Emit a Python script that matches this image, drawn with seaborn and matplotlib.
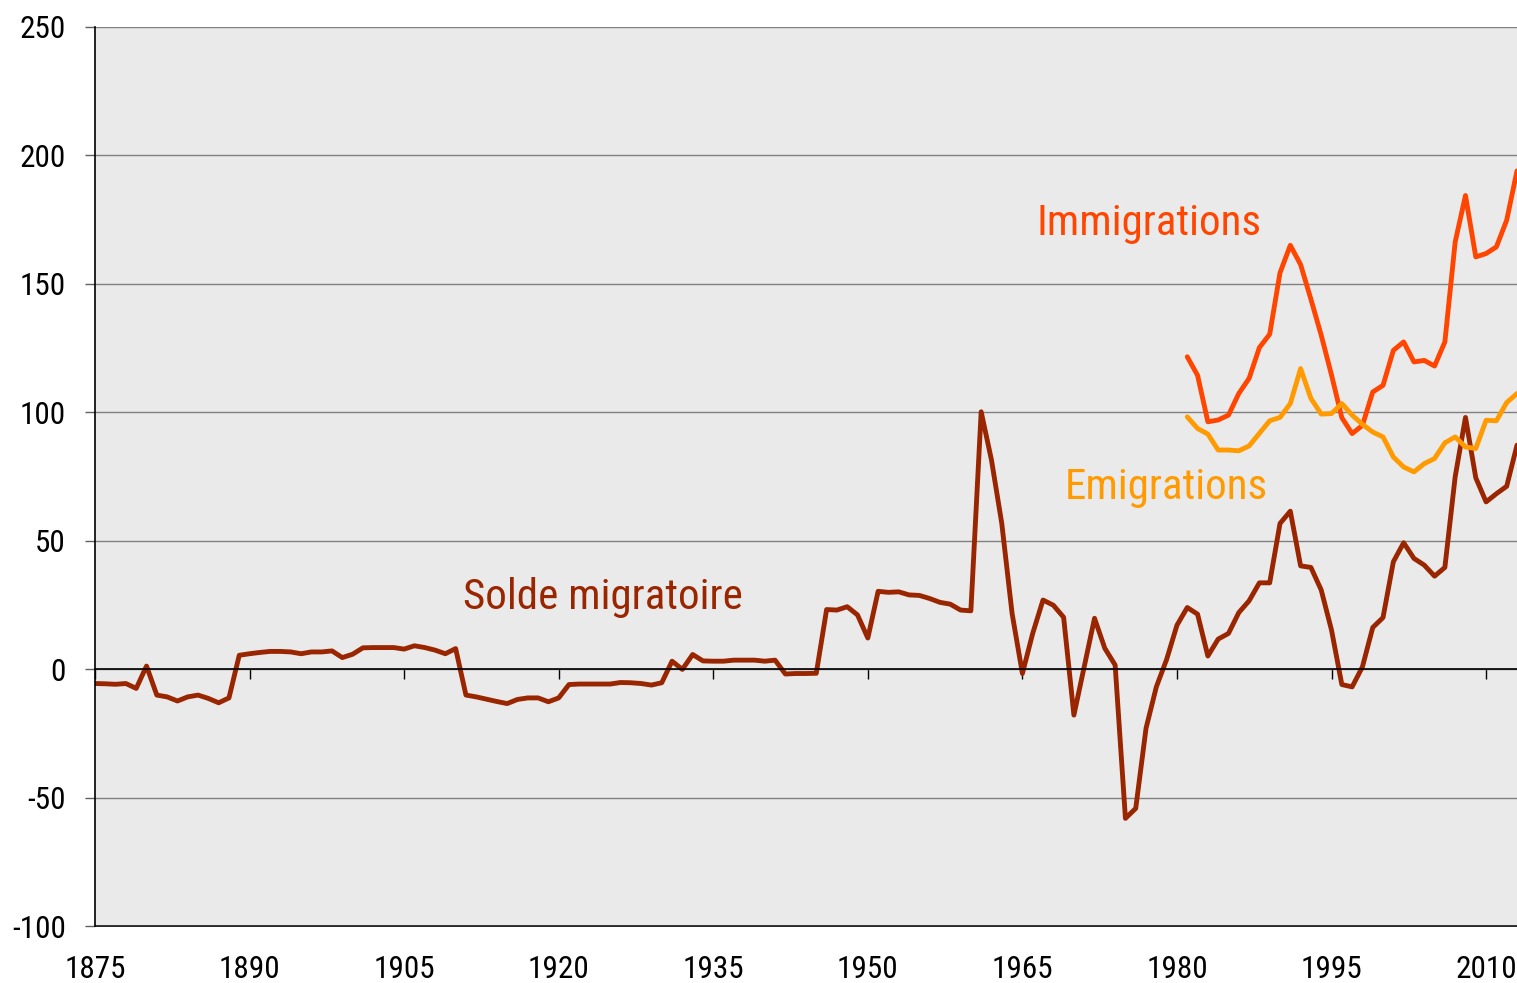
import numpy as np
import pandas as pd
import matplotlib
matplotlib.use('Agg')
import matplotlib.pyplot as plt
import seaborn as sns

# Migration flows (thousands)
years_solde = list(range(1875, 2014))
solde = [
    -5.6, -5.7, -5.9, -5.6, -7.5, 1.2, -10.1, -10.8, -12.4, -10.8,      # 1875-1884
    -10.1, -11.4, -13.1, -11.2, 5.4, 6.0, 6.5, 6.9, 6.9, 6.7,            # 1885-1894
    6.0, 6.7, 6.7, 7.1, 4.5, 5.8, 8.3, 8.4, 8.4, 8.4,                    # 1895-1904
    7.8, 9.1, 8.4, 7.4, 6.0, 8.0, -10.1, -10.8, -11.7, -12.6,            # 1905-1914
    -13.4, -11.8, -11.2, -11.2, -12.7, -11.2, -6.0, -5.8, -5.8, -5.8,    # 1915-1924
    -5.8, -5.2, -5.3, -5.6, -6.2, -5.3, 3.1, -0.1, 5.7, 3.2,             # 1925-1934
    3.1, 3.1, 3.5, 3.5, 3.5, 3.1, 3.5, -1.9, -1.7, -1.7,                 # 1935-1944
    -1.6, 23.2, 23.0, 24.3, 21.1, 12.1, 30.3, 29.9, 30.1, 28.9,          # 1945-1954
    28.7, 27.5, 26.0, 25.3, 23.0, 22.7, 100.2, 81.4, 56.7, 21.7,         # 1955-1964
    -1.7, 13.9, 26.9, 24.9, 20.2, -17.9, 0.9, 19.8, 8.1, 1.6,            # 1965-1974
    -58.1, -54.2, -23.0, -6.9, 3.8, 17.1, 24.0, 21.4, 5.1, 11.7,         # 1975-1984
    13.9, 22.0, 26.6, 33.6, 33.6, 56.7, 61.5, 40.2, 39.6, 30.8,          # 1985-1994
    15.2, -6.0, -6.9, 0.9, 16.2, 20.1, 41.8, 49.2, 43.1, 40.5,           # 1995-2004
    36.2, 39.6, 74.9, 98.0, 74.5, 65.1, 68.3, 71.2, 87.2,                # 2005-2013
]

years_flux = list(range(1981, 2014))
immigrations = [
    121.6, 114.4, 96.3, 97.0, 98.9, 107.3, 113.2, 125.2, 130.4, 154.3,
    165.0, 157.5, 144.0, 130.0, 114.5, 97.9, 91.7, 94.9, 107.9, 110.5,
    124.1, 127.4, 119.6, 120.2, 118.0, 127.4, 166.3, 184.4, 160.5, 161.8,
    164.4, 174.8, 194.0,
]
emigrations = [
    98.2, 93.7, 91.5, 85.3, 85.3, 85.0, 86.9, 91.8, 96.7, 98.0,
    103.4, 117.0, 105.4, 99.3, 99.5, 103.4, 98.9, 95.3, 92.3, 90.4,
    82.6, 78.7, 76.8, 80.0, 82.0, 88.1, 90.4, 86.5, 85.9, 96.9,
    96.7, 103.8, 107.3,
]

x_ticks = list(range(1875, 2011, 15))
y_ticks = list(range(-100, 251, 50))

sns.set_theme(style='whitegrid', rc={
    'axes.facecolor': '#EAEAEA',
    'figure.facecolor': 'white',
    'grid.color': '#808080',
    'grid.linewidth': 1.0,
})
plt.rcParams['font.family'] = ['Roboto Condensed', 'Archivo Narrow', 'DejaVu Sans']
plt.rcParams['axes.unicode_minus'] = False

c_solde = '#992600'
c_immig = '#FF4500'
c_emig = '#FF9A00'

fig = plt.figure(figsize=(15.17, 9.83), dpi=100)
ax = fig.add_axes([95 / 1517, 57 / 983, 1422 / 1517, 899 / 983])

sns.lineplot(x=years_solde, y=solde, color=c_solde, lw=3.5, ax=ax)
sns.lineplot(x=years_flux, y=immigrations, color=c_immig, lw=3.5, ax=ax)
sns.lineplot(x=years_flux, y=emigrations, color=c_emig, lw=3.5, ax=ax)

ax.set_xlim(1875, 2013)
ax.set_ylim(-100, 250)
ax.set_yticks(y_ticks)
ax.grid(axis='x', visible=False)
ax.grid(axis='y', visible=True)

# category axis crosses at zero, labels stay at the bottom
ax.spines['bottom'].set_position(('data', 0))
ax.spines['bottom'].set_color('black')
ax.spines['bottom'].set_linewidth(1.2)
ax.spines['left'].set_color('black')
ax.spines['left'].set_linewidth(1.2)
ax.spines['top'].set_visible(False)
ax.spines['right'].set_visible(False)
ax.set_xticks(x_ticks)
ax.tick_params(axis='x', bottom=True, direction='out', length=7, width=1,
               color='black', labelbottom=False)
ax.tick_params(axis='y', left=True, direction='out', length=7, width=1,
               color='#606060', labelsize=22.5, pad=14, labelcolor='black')

sec = ax.secondary_xaxis('bottom')
sec.set_xticks(x_ticks)
sec.tick_params(length=0, labelsize=22.5, pad=21, labelcolor='black')
sec.spines['bottom'].set_color('black')
sec.spines['bottom'].set_linewidth(1.2)

ax.set_xlabel('')
ax.set_ylabel('')

ax.text(1966.4, 169.2, 'Immigrations', color=c_immig, fontsize=31, va='baseline')
ax.text(1969.1, 66.4, 'Emigrations', color=c_emig, fontsize=31, va='baseline')
ax.text(1910.7, 23.4, 'Solde migratoire', color=c_solde, fontsize=31, va='baseline')

plt.savefig('out.png', dpi=100)
